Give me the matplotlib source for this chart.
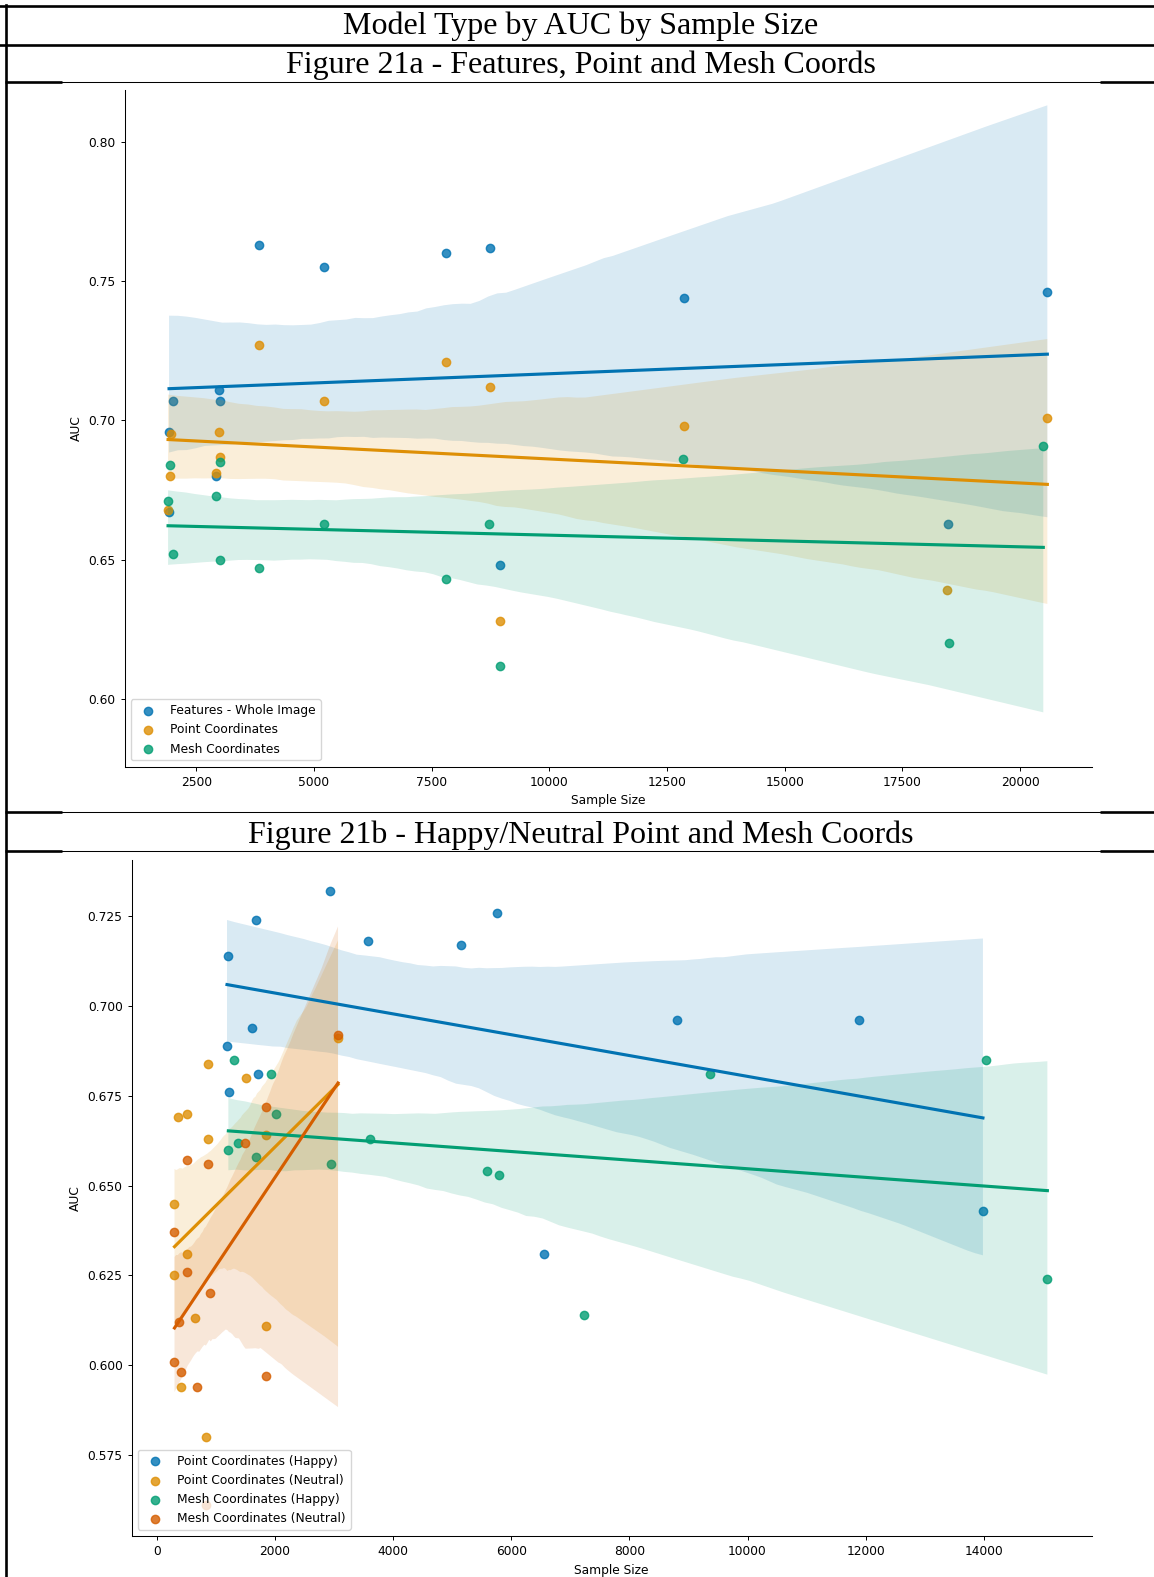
import matplotlib
matplotlib.use("Agg")
import matplotlib.pyplot as plt
import seaborn as sns

# Sample size / AUC for the full-image comparison
feat_x = [1923, 2009, 1923, 2991, 3013, 2927, 3825, 5214, 7799, 8739, 8953, 12863, 18462, 20577]
feat_y = [0.696, 0.707, 0.667, 0.711, 0.707, 0.680, 0.763, 0.755, 0.760, 0.762, 0.648, 0.744, 0.663, 0.746]

point_x = [1966, 1944, 1902, 2991, 3013, 2927, 3825, 5214, 7799, 8739, 8953, 12863, 18440, 20577]
point_y = [0.695, 0.680, 0.668, 0.696, 0.687, 0.681, 0.727, 0.707, 0.721, 0.712, 0.628, 0.698, 0.639, 0.701]

mesh_x = [1944, 1902, 2009, 3013, 2927, 3013, 3825, 5214, 7799, 8718, 8953, 12842, 18483, 20491]
mesh_y = [0.684, 0.671, 0.652, 0.685, 0.673, 0.650, 0.647, 0.663, 0.643, 0.663, 0.612, 0.686, 0.620, 0.691]

# Happy / neutral split
ph_x = [2930, 1673, 1203, 3581, 5145, 1605, 1186, 1707, 1227, 5761, 8807, 11891, 13986, 6559]
ph_y = [0.732, 0.724, 0.714, 0.718, 0.717, 0.694, 0.689, 0.681, 0.676, 0.726, 0.696, 0.696, 0.643, 0.631]

pn_x = [856, 1514, 360, 501, 856, 1848, 297, 506, 297, 647, 1848, 415, 3066, 835]
pn_y = [0.684, 0.680, 0.669, 0.670, 0.663, 0.664, 0.645, 0.631, 0.625, 0.613, 0.611, 0.594, 0.691, 0.580]

mh_x = [1300, 1928, 2008, 1209, 1379, 1679, 2953, 3610, 5581, 5785, 9370, 7223, 14037, 15077]
mh_y = [0.685, 0.681, 0.670, 0.660, 0.662, 0.658, 0.656, 0.663, 0.654, 0.653, 0.681, 0.614, 0.685, 0.624]

mn_x = [3066, 1853, 1497, 501, 856, 297, 506, 891, 365, 297, 415, 670, 1853, 835]
mn_y = [0.692, 0.672, 0.662, 0.657, 0.656, 0.637, 0.626, 0.620, 0.612, 0.601, 0.598, 0.594, 0.597, 0.561]

pal = sns.color_palette("colorblind")

plt.rcParams["font.size"] = 8.8
plt.rcParams["axes.linewidth"] = 0.75
plt.rcParams["xtick.major.size"] = 3.1
plt.rcParams["ytick.major.size"] = 3.1
plt.rcParams["xtick.major.width"] = 0.7
plt.rcParams["ytick.major.width"] = 0.7

W, H = 1154, 1577
fig = plt.figure(figsize=(W / 100, H / 100), dpi=100)

# page frame (table borders + headings), in pixel coords
page = fig.add_axes([0, 0, 1, 1], zorder=-1)
page.set_xlim(0, W)
page.set_ylim(H, 0)
page.axis("off")
thick, thin = 1.9, 0.75
page.plot([0, W], [5.5, 5.5], color="black", lw=thick)
page.plot([0, W], [44.5, 44.5], color="black", lw=thick)
page.plot([6, 6], [4.5, H], color="black", lw=thick)
for yy in [82, 812, 851]:
    page.plot([5, 62], [yy, yy], color="black", lw=thick, solid_capstyle="butt")
    page.plot([62, 1100], [yy, yy], color="black", lw=thin)
    page.plot([1100, W], [yy, yy], color="black", lw=thick, solid_capstyle="butt")

serif = "Liberation Serif"
page.text(581, 26, "Model Type by AUC by Sample Size", family=serif, fontsize=23,
          ha="center", va="center")
page.text(581, 65, "Figure 21a - Features, Point and Mesh Coords", family=serif,
          fontsize=23, ha="center", va="center")
page.text(581, 835, "Figure 21b - Happy/Neutral Point and Mesh Coords", family=serif,
          fontsize=23, ha="center", va="center")

# Figure 21a
ax1 = fig.add_axes([124.8 / W, 1 - 766.6 / H, 966.8 / W, 676.1 / H])
sns.regplot(x=feat_x, y=feat_y, ax=ax1, color=pal[0], label="Features - Whole Image", seed=1)
sns.regplot(x=point_x, y=point_y, ax=ax1, color=pal[1], label="Point Coordinates", seed=2)
sns.regplot(x=mesh_x, y=mesh_y, ax=ax1, color=pal[2], label="Mesh Coordinates", seed=3)
ax1.set_xlim(983, 21517)
ax1.set_ylim(0.5758, 0.8184)
ax1.set_yticks([0.60, 0.65, 0.70, 0.75, 0.80])
ax1.set_xlabel("Sample Size")
ax1.set_ylabel("AUC")
ax1.legend(loc="lower left")
sns.despine(ax=ax1)

# Figure 21b
ax2 = fig.add_axes([131.8 / W, 1 - 1536 / H, 959.8 / W, 676 / H])
sns.regplot(x=ph_x, y=ph_y, ax=ax2, color=pal[0], label="Point Coordinates (Happy)", seed=4)
sns.regplot(x=pn_x, y=pn_y, ax=ax2, color=pal[1], label="Point Coordinates (Neutral)", seed=5)
sns.regplot(x=mh_x, y=mh_y, ax=ax2, color=pal[2], label="Mesh Coordinates (Happy)", seed=6)
sns.regplot(x=mn_x, y=mn_y, ax=ax2, color=pal[3], label="Mesh Coordinates (Neutral)", seed=7)
ax2.set_xlim(-426, 15826)
ax2.set_ylim(0.5524, 0.7407)
ax2.set_xticks(range(0, 16000, 2000))
ax2.set_yticks([0.575, 0.600, 0.625, 0.650, 0.675, 0.700, 0.725])
ax2.set_xlabel("Sample Size")
ax2.set_ylabel("AUC")
ax2.legend(loc="lower left")
sns.despine(ax=ax2)

fig.savefig("out.png", dpi=100)
